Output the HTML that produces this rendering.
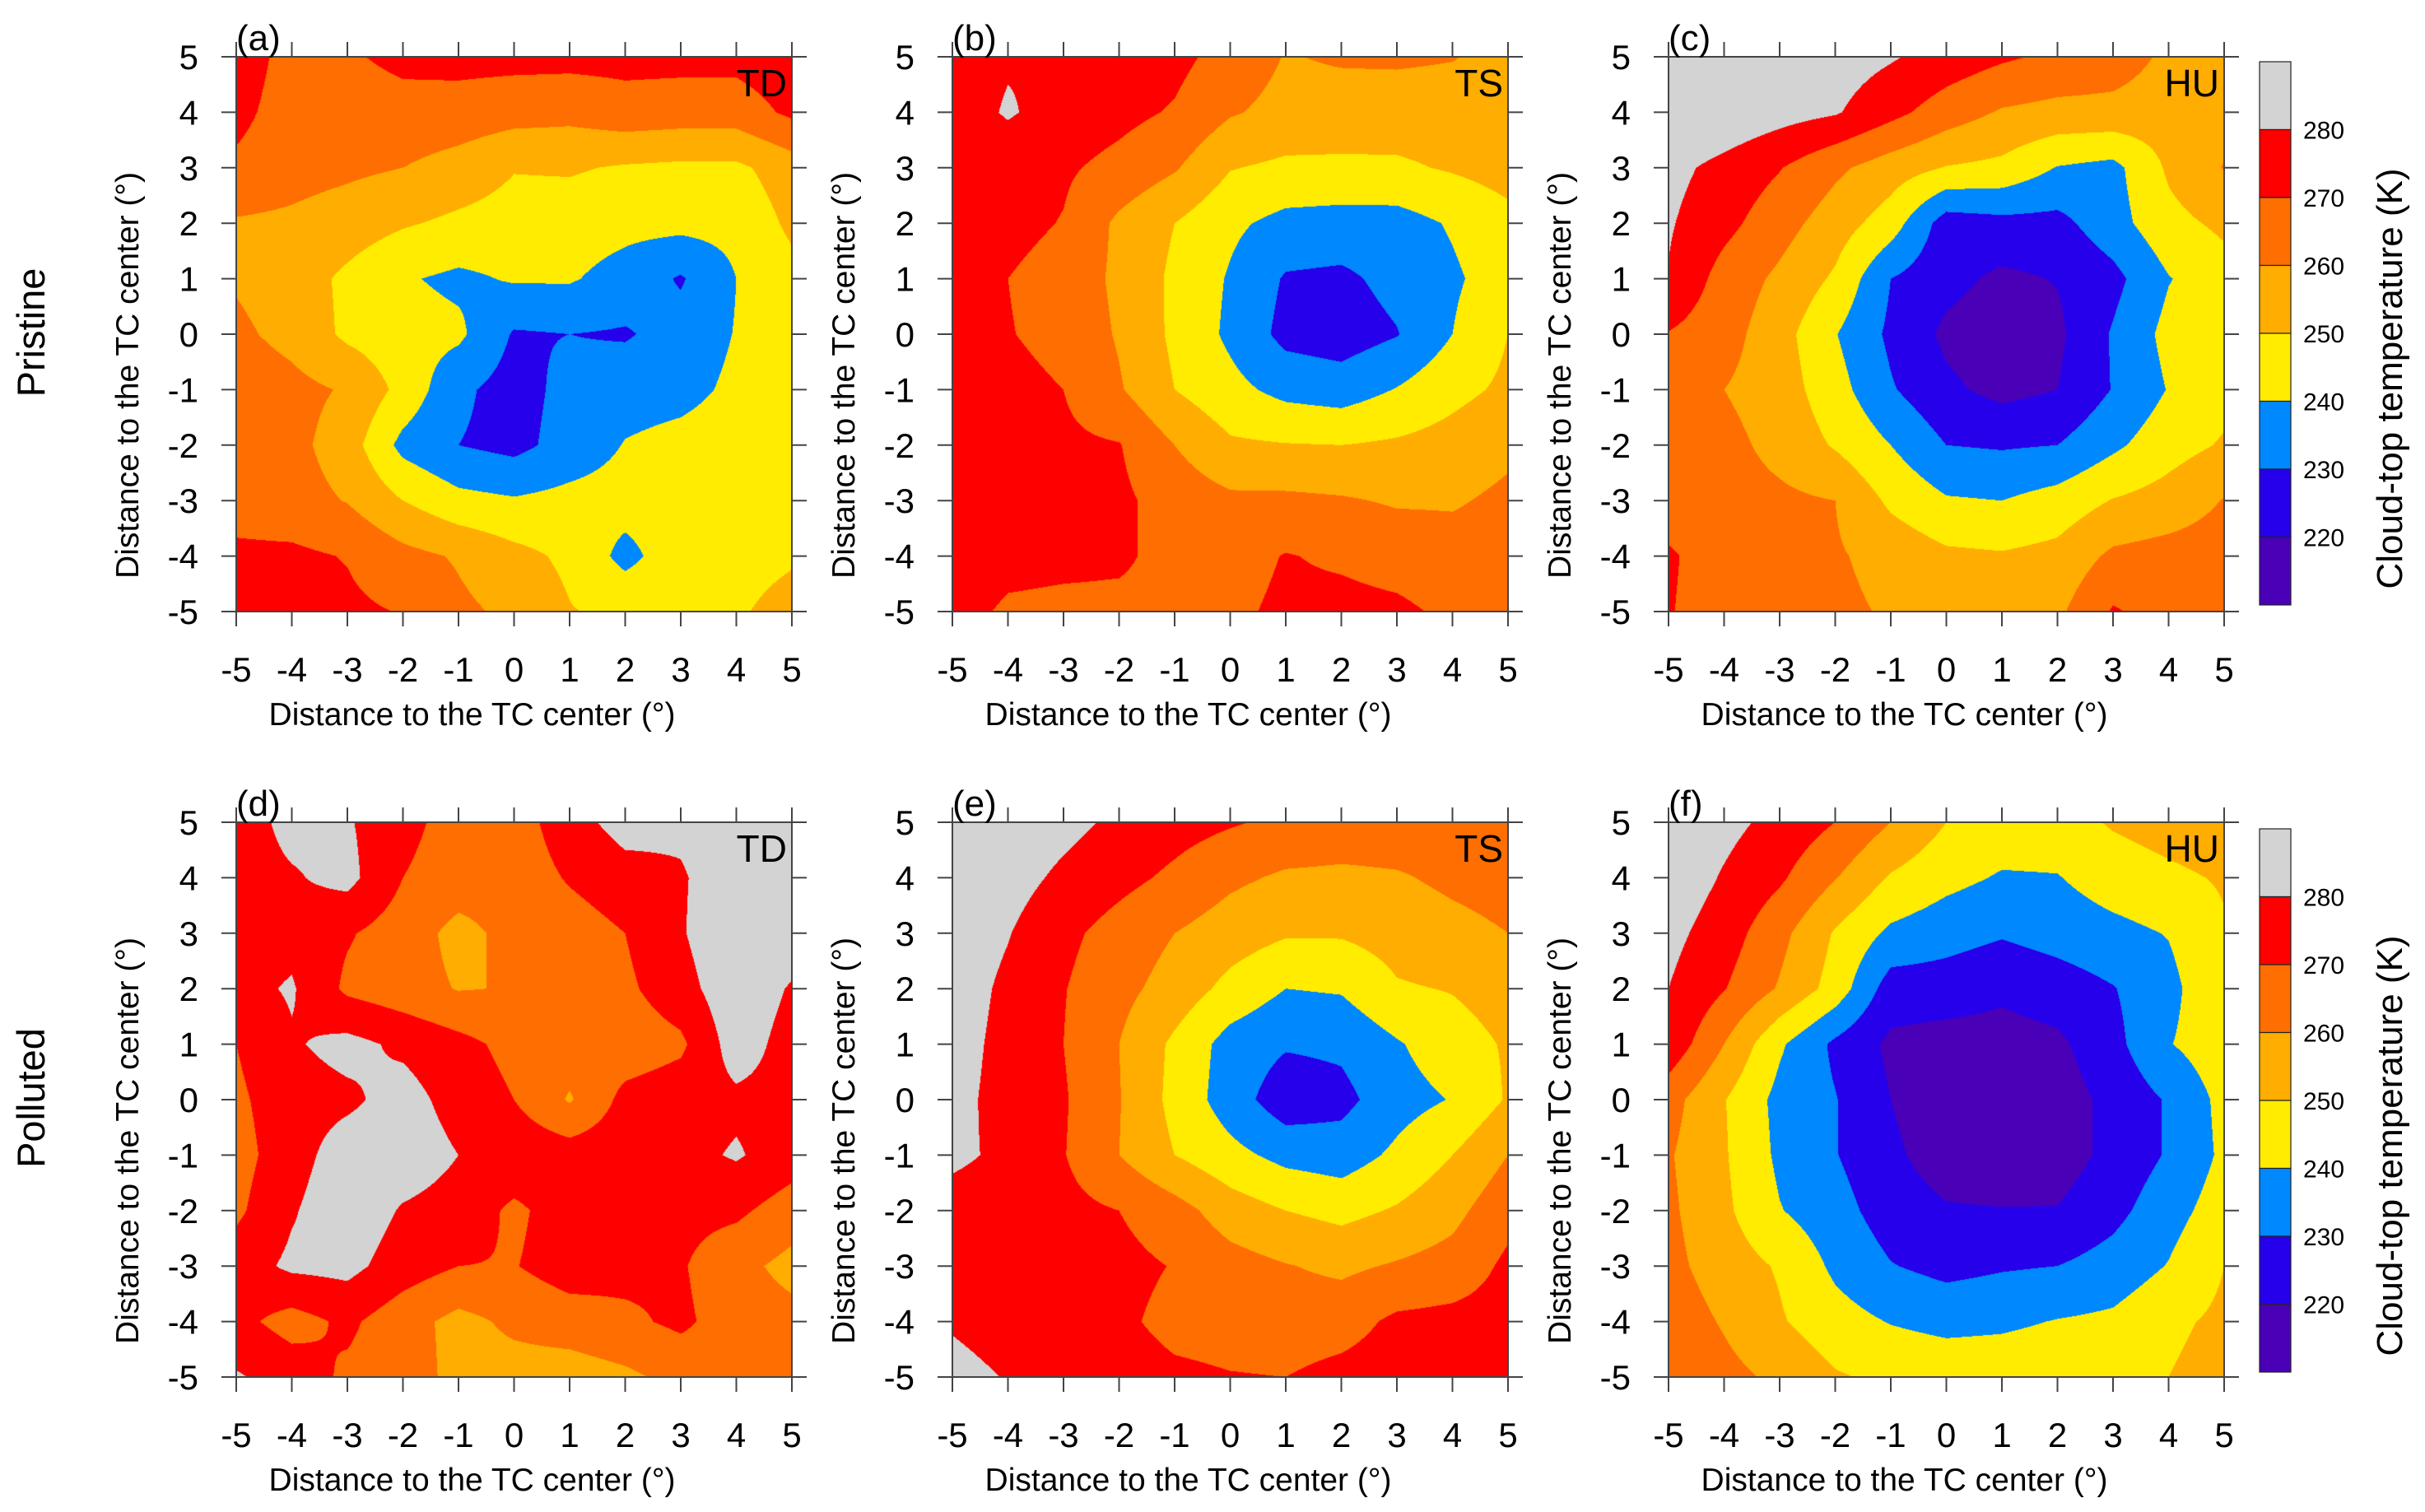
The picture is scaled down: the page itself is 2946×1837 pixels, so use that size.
<!DOCTYPE html>
<html><head><meta charset="utf-8">
<style>
html,body{margin:0;padding:0;background:#fff;}
#root{position:relative;width:2946px;height:1837px;overflow:hidden;background:#fff;font-family:"Liberation Sans",sans-serif;}
canvas{position:absolute;}
svg{position:absolute;left:0;top:0;}
</style></head>
<body>
<div id="root">
<svg id="ov" width="2946" height="1837"></svg>
</div>
<script>
// ---- data ----
const xVals=[-5,-4,-3,-2,-1,0,1,2,3,4,5];
const yVals=[5,4,3,2,1,0,-1,-2,-3,-4,-5];
const levels=[220,230,240,250,260,270,280];
const levelColors=["#4a00b6","#2600ea","#0088ff","#ffec00","#ffad00","#ff6e00","#ff0000","#d3d3d3"];
const tickVals=[-5,-4,-3,-2,-1,0,1,2,3,4,5];
const cbLabels=["280","270","260","250","240","230","220"];
const panelLetters=["(a)","(b)","(c)","(d)","(e)","(f)"];
const panelTypes=["TD","TS","HU","TD","TS","HU"];

const gridA=[
[276,266,269,272,273,273,273,273,273,273,276],
[273,265,266,267,266,264,263,266,265,265,272],
[268,264,262,260,256,250.5,251,249,248,248,255],
[259,258,255,251,248,246,245,243,243,243,252],
[259,255,248,241,238,241,241,236,229,240,247],
[262,257,248,244,242,229,230,229,234,240.5,247],
[266,263,259,247,232,226,233,236,237,242,247],
[266,263,255,237,230,227,234,240.5,243,245,247],
[266,264,259.5,250,243,241,243,244,245,246,248],
[272,272,269.5,263,259,253,248,237,246,247,249],
[275,274,272,269.5,262,258,250.5,248,248,249,253]];
const gridB=[
[275,279,280,276,273,266,259.5,261,261.5,260.5,257],
[275,281,276,273,269,261,257,256,255,255,255],
[275,274,271.5,267,261,250.5,248,248,248.5,251,254],
[275,273,269.5,258,250,242,237,236,236,241,247],
[275,270,266,258,248,239,229,228,233,238.5,245],
[275,270.5,267,259,248,238,227,225,229.5,240,250],
[275,273,270,261,250,243,237,235,240.5,247,252],
[275,274,272,270.5,260,251.5,250.5,250,251.5,254,258],
[275,274,273,272,266,262,262,261,259,259,262],
[279,274,273,272,266,266,270.5,268.5,266,264,264],
[275,268,267,267,267,268,272,273,272,268,266]];
const gridC=[
[290,290,288,285,281,276,271.5,268,265,258,258],
[290,288,284,281,273,265,259,257,257,255,256],
[283,277,270.5,262,255,249.5,247.5,239.5,237,251.5,260.5],
[281,273,264,255,245,225,227,227,236,247,252],
[279.5,266,258,248.5,230,223,218,220.5,227,239.5,246],
[269.5,264,254,240.5,228,218,214,218,231,243,249],
[267,260,255,244,231,222,217,220,230.5,240.5,247],
[266,263,257,249,240,230,229,230,238,246,251],
[266,264,262,260,248,241,240,244,250.5,254,260.5],
[271,266,264,261,257,252,251,253,262,264,265],
[270.5,266,264,262,259,256,256,258,271,266,266]];
const gridD=[
[275,283,281,273,266,265,276,284,282,285,285],
[276,279,283,270,265,264,271,276,279,286,286],
[276,277,271,265,257,263,265,270,279,289,286],
[277,281,268,264,259.5,260.5,265,268,276,287,279],
[270,279,283,278,273,267,265,264,268,285,276],
[268,276,278,284,276,270,259,273,276,278,277],
[266,276,285,286,280,277,275,276,277,281,275],
[268,279,287,279,276,268,275,275,273,272,265],
[275,282,283,275,270,269.5,275,273,271,263,257],
[273,266,272,264,257,262,265,268,272,265,263],
[281,276,268,265,257,256,255,258,263,265,264]];
const gridE=[
[288,287,283,278,274,271,268,266,266,265,265],
[287,284,278,273,268,262,258.5,258,259,262,264],
[286,280.5,272.5,266,260,255,251,251,254,257,260],
[285,278,270.5,263,256,247,240,241,249,250.5,254],
[284,277,270,260,248,236,231,232,239,246,251],
[283,276.5,271,260.5,247,235,224,227,236,240.5,251],
[282,278,270.5,260,250,243,237,235,242,250,260],
[276,275,273,270,264,255,250,247,251,257,267],
[276,276,274,273,269.5,264,260.5,258,261,264,272],
[279,276,275,272,267,266,265,266,272,273,274],
[283,279.5,277,275,272,270.5,270,273,275,276,276]];
const gridF=[
[290,283,277,270,260,250,246,246,251,254,256],
[287,279,271.5,260.5,249,243,239,239.5,245,248,251],
[283,275,263,249,238,234,231,234,237,240.5,249],
[280,270.5,259,246,225,225,222,225,229.5,237,249],
[277,260,241.5,228,218,216,216,218,227,239.5,246],
[264,250.5,237,230.5,220,213,212,215,223,231,243],
[261,251,238,230.5,222,215,213,215,223,231,242],
[262,252,240.5,234,225,221,220.5,220.5,227,236,245],
[263,255,249,238,230.5,227,229,230,234,240.5,250],
[266,259,251,244,239.5,237,238,240.5,242,248,252],
[269,263,258,251,248,247,247,248,249,250,254]];
const grids=[gridA,gridB,gridC,gridD,gridE,gridF];

// ---- layout ----
const colX=[287,1157,2027];
const rowY=[69,999];
const PW=675, PH=674;
const NS="http://www.w3.org/2000/svg";
const ov=document.getElementById('ov');
const root=document.getElementById('root');

function sx(v,left){return left+(v-xVals[0])/(xVals[xVals.length-1]-xVals[0])*PW;}
function sy(v,top){return top+(yVals[0]-v)/(yVals[0]-yVals[yVals.length-1])*PH;}

function hexToRgb(h){return [parseInt(h.slice(1,3),16),parseInt(h.slice(3,5),16),parseInt(h.slice(5,7),16)];}
const rgbCols=levelColors.map(hexToRgb);
function levelIndex(v){let k=0;while(k<levels.length&&v>=levels[k])k++;return k;}

function mk(tag,attrs,parent){const e=document.createElementNS(NS,tag);for(const k in attrs)e.setAttribute(k,attrs[k]);(parent||ov).appendChild(e);return e;}
function txt(s,attrs,parent){const e=mk('text',attrs,parent);e.textContent=s;return e;}

function renderField(cv,grid){
  const ctx=cv.getContext('2d');
  const img=ctx.createImageData(PW,PH);
  const nx=xVals.length-1, ny=yVals.length-1;
  for(let py=0;py<PH;py++){
    const yd=yVals[0]-(py+0.5)/PH*(yVals[0]-yVals[ny]);
    let gy=(yVals[0]-yd)/(yVals[0]-yVals[1]);
    let j=Math.min(ny-1,Math.max(0,Math.floor(gy)));const fy=gy-j;
    for(let px=0;px<PW;px++){
      const xd=xVals[0]+(px+0.5)/PW*(xVals[nx]-xVals[0]);
      let gx=(xd-xVals[0])/(xVals[1]-xVals[0]);
      let i=Math.min(nx-1,Math.max(0,Math.floor(gx)));const fx=gx-i;
      const v=grid[j][i]*(1-fx)*(1-fy)+grid[j][i+1]*fx*(1-fy)+grid[j+1][i]*(1-fx)*fy+grid[j+1][i+1]*fx*fy;
      const c=rgbCols[levelIndex(v)];
      const o=(py*PW+px)*4;
      img.data[o]=c[0];img.data[o+1]=c[1];img.data[o+2]=c[2];img.data[o+3]=255;
    }
  }
  ctx.putImageData(img,0,0);
}

for(let p=0;p<6;p++){
  const left=colX[p%3], top=rowY[Math.floor(p/3)];
  const cv=document.createElement('canvas');
  cv.width=PW;cv.height=PH;
  cv.style.left=left+'px';cv.style.top=top+'px';
  
  
  root.insertBefore(cv,ov);
  renderField(cv,grids[p]);

  const g=mk('g',{});
  
  
  const frame=mk('rect',{x:left,y:top,width:PW,height:PH,fill:'none',stroke:'#444','stroke-width':2},g);
  
  
  tickVals.forEach(t=>{
    const x=sx(t,left), y=sy(t,top);
    mk('line',{x1:x,y1:top+PH,x2:x,y2:top+PH+18,stroke:'#444','stroke-width':2},g);
    mk('line',{x1:x,y1:top,x2:x,y2:top-18,stroke:'#444','stroke-width':2},g);
    mk('line',{x1:left,y1:y,x2:left-18,y2:y,stroke:'#444','stroke-width':2},g);
    mk('line',{x1:left+PW,y1:y,x2:left+PW+18,y2:y,stroke:'#444','stroke-width':2},g);
    const xl=txt(String(t),{x:x,y:top+PH+85,'font-size':42,'text-anchor':'middle',fill:'#000'},g);
    
    
    const yl=txt(String(t),{x:left-46,y:y+15,'font-size':42,'text-anchor':'end',fill:'#000'},g);
    
    
  });
  const xt=txt('Distance to the TC center (°)',{x:left+PW/2-51,y:top+PH+138,'font-size':39,'text-anchor':'middle',fill:'#000'},g);
  
  
  const cx=left-133, cy=top+PH/2+50;
  const yt=txt('Distance to the TC center (°)',{x:cx,y:cy+14,'font-size':39,'text-anchor':'middle',fill:'#000',transform:`rotate(-90 ${cx} ${cy})`},g);
  
  
  const pl=txt(panelLetters[p],{x:left,y:top-8,'font-size':44,fill:'#000'},g);
  
  
  const ty=txt(panelTypes[p],{x:left+PW-6,y:top+48,'font-size':46,'text-anchor':'end',fill:'#000'},g);
  
  
}

// row labels
const rowNames=["Pristine","Polluted"];
rowNames.forEach((s,r)=>{
  const cy=rowY[r]+PH/2-2, cx=38;
  const t=txt(s,{x:cx,y:cy+16,'font-size':47,'text-anchor':'middle',fill:'#000',transform:`rotate(-90 ${cx} ${cy})`});
  
  
});

// colorbars
const cbTops=[75,1007];
const CBH=660, CBX=2745, CBW=38;
cbTops.forEach((top,r)=>{
  const g=mk('g',{});
  
  
  const n=levelColors.length, bh=CBH/n;
  for(let k=0;k<n;k++){
    const col=levelColors[n-1-k];
    const b=mk('rect',{x:CBX,y:top+k*bh,width:CBW,height:bh,fill:col,stroke:'#222','stroke-width':1.2},g);
    
    
  }
  cbLabels.forEach((l,k)=>{
    const t=txt(l,{x:CBX+CBW+15,y:top+(k+1)*bh+11,'font-size':30,fill:'#000'},g);
    
    
  });
  const cx=2903, cy=top+CBH/2+55;
  const t=txt('Cloud-top temperature (K)',{x:cx,y:cy+15,'font-size':44,'text-anchor':'middle',fill:'#000',transform:`rotate(-90 ${cx} ${cy})`},g);
  
  
});
</script>
</body></html>
